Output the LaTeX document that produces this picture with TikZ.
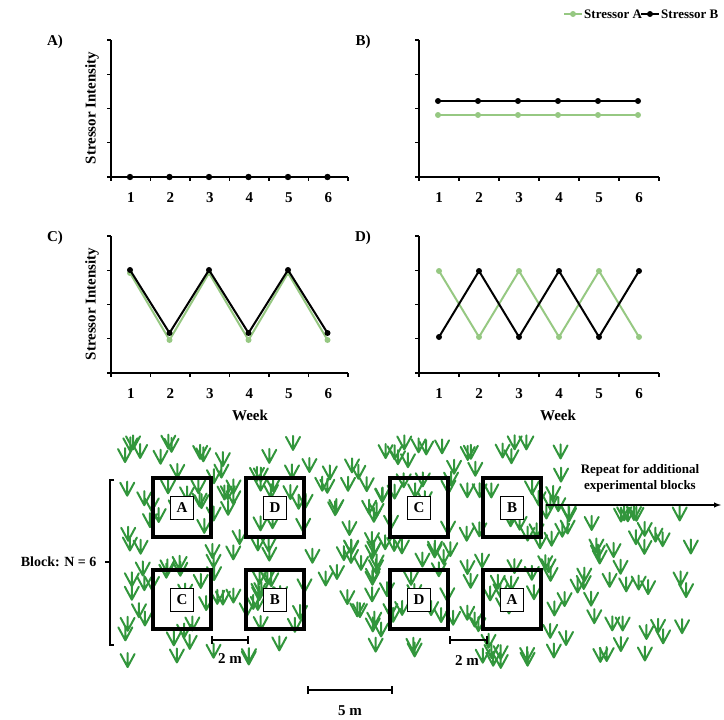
\documentclass[tikz,border=0pt]{standalone}
\usepackage{fontspec}
\setmainfont{Liberation Serif}
\begin{document}
\begin{tikzpicture}[x=1pt,y=-1pt,font=\bfseries\fontsize{15}{17}\selectfont,
  ax/.style={line width=1.2pt},
  lg/.style={color=ltgreen,line width=2pt},
  lb/.style={color=black,line width=2pt},
  plot/.style={line width=3.5pt},
  inbox/.style={draw,fill=white,minimum size=23pt,inner sep=0pt,line width=0.7pt},
  grass/.style={color=grassgreen,line width=2pt,line cap=round},
  legtxt/.style={anchor=west,inner sep=1pt,font=\bfseries\fontsize{13}{15}\selectfont}]
\definecolor{ltgreen}{RGB}{150,200,130}
\definecolor{grassgreen}{RGB}{50,150,60}
\useasboundingbox (0,0) rectangle (724,720);
\foreach \ox/\oy/\sp/\lab/\week in {111/177/39.5/A)/0, 419/177/40/B)/0, 111/373/39.5/C)/1, 419/373/40/D)/1}{
  \draw[ax] (\ox,\oy-137) -- (\ox,\oy) -- (\ox+6*\sp,\oy);
  \foreach \k in {0,...,4} \draw[ax] (\ox-4,\oy-\k*34.25) -- (\ox,\oy-\k*34.25);
  \foreach \k in {0,...,6} \draw[ax] (\ox+\k*\sp,\oy) -- (\ox+\k*\sp,\oy+4);
  \foreach \k in {1,...,6} \node at (\ox+\k*\sp-0.5*\sp,\oy+21) {\k};
  \node at (\ox-56,\oy-135) {\lab};
}
\node[rotate=90] at (92,108) {Stressor Intensity};
\node[rotate=90] at (92,304) {Stressor Intensity};
\node at (250,415) {Week};
\node at (558,415) {Week};
% A
\draw[lb] (130,177) -- (327,177);
\foreach \i in {0,...,5} \fill (130+39.5*\i,177) circle (3.2);
% B
\draw[lg] (438,115) -- (638,115);
\foreach \i in {0,...,5} \fill[ltgreen] (438+40*\i,115) circle (3);
\draw[lb] (438,101) -- (638,101);
\foreach \i in {0,...,5} \fill (438+40*\i,101) circle (3);
% C
\draw[lg] (130,273) -- (169.5,340) -- (209,273) -- (248.5,340) -- (288,273) -- (327.5,340);
\foreach \x/\y in {130/273,169.5/340,209/273,248.5/340,288/273,327.5/340} \fill[ltgreen] (\x,\y) circle (3);
\draw[lb] (130,270) -- (169.5,333) -- (209,270) -- (248.5,333) -- (288,270) -- (327.5,333);
\foreach \x/\y in {130/270,169.5/333,209/270,248.5/333,288/270,327.5/333} \fill (\x,\y) circle (3);
% D
\draw[lg] (439,271) -- (479,337) -- (519,271) -- (559,337) -- (599,271) -- (639,337);
\foreach \x/\y in {439/271,479/337,519/271,559/337,599/271,639/337} \fill[ltgreen] (\x,\y) circle (3);
\draw[lb] (439,337) -- (479,271) -- (519,337) -- (559,271) -- (599,337) -- (639,271);
\foreach \x/\y in {439/337,479/271,519/337,559/271,599/337,639/271} \fill (\x,\y) circle (3);
% legend
\draw[lg] (564,14) -- (582,14); \fill[ltgreen] (573,14) circle (3);
\node[legtxt] at (583,14) {Stressor A};
\draw[lb] (641,14) -- (659,14); \fill (650,14) circle (3);
\node[legtxt] at (660,14) {Stressor B};
% grass
\pgfmathsetseed{11}
\foreach \n in {1,...,230}{
  \pgfmathsetmacro{\gx}{125+rnd*440}
  \pgfmathsetmacro{\gy}{448+rnd*220}
  \draw[grass] (\gx,\gy) -- (\gx,\gy-14) (\gx,\gy) -- (\gx-7,\gy-13) (\gx,\gy) -- (\gx+7,\gy-13);
}
\foreach \n in {1,...,50}{
  \pgfmathsetmacro{\gx}{545+rnd*148}
  \pgfmathsetmacro{\gy}{518+rnd*145}
  \draw[grass] (\gx,\gy) -- (\gx,\gy-14) (\gx,\gy) -- (\gx-7,\gy-13) (\gx,\gy) -- (\gx+7,\gy-13);
}
% plots
\foreach \x/\y/\l/\nm in {153/478/A/pa,246/478/D/pb,390/478/C/pc,483/478/B/pd,153/570/C/pe,246/570/B/pf,390/570/D/pg,483/570/A/ph}{
  \draw[plot] (\x,\y) rectangle (\x+58,\y+59);
  \node[inbox] (\nm) at (\x+29,\y+29.5) {\l};
}
% bracket
\draw[line width=1.2pt] (114,480) -- (110,480) -- (110,645) -- (114,645);
\draw[line width=1.2pt] (105,562) -- (110,562);
\node[anchor=east,font=\bfseries\fontsize{14}{16}\selectfont] at (100,562) {Block: N = 6};
% scale bars
\draw[line width=1.4pt] (212,636) -- (212,644) (212,640) -- (248,640) (248,636) -- (248,644);
\node at (230,659) {2 m};
\draw[line width=1.4pt] (450,636) -- (450,644) (450,640) -- (487,640) (487,636) -- (487,644);
\node at (467,661) {2 m};
\draw[line width=1.4pt] (308,686) -- (308,694) (308,690) -- (392,690) (392,686) -- (392,694);
\node at (350,711) {5 m};
% arrow
\coordinate (as) at (546,505); \coordinate (ae) at (721,505);
\draw[line width=1.4pt,-latex] (as) -- (ae);
\node[align=center,font=\bfseries\fontsize{13}{16}\selectfont] at (640,478) {Repeat for additional\\experimental blocks};
\end{tikzpicture}
\end{document}
